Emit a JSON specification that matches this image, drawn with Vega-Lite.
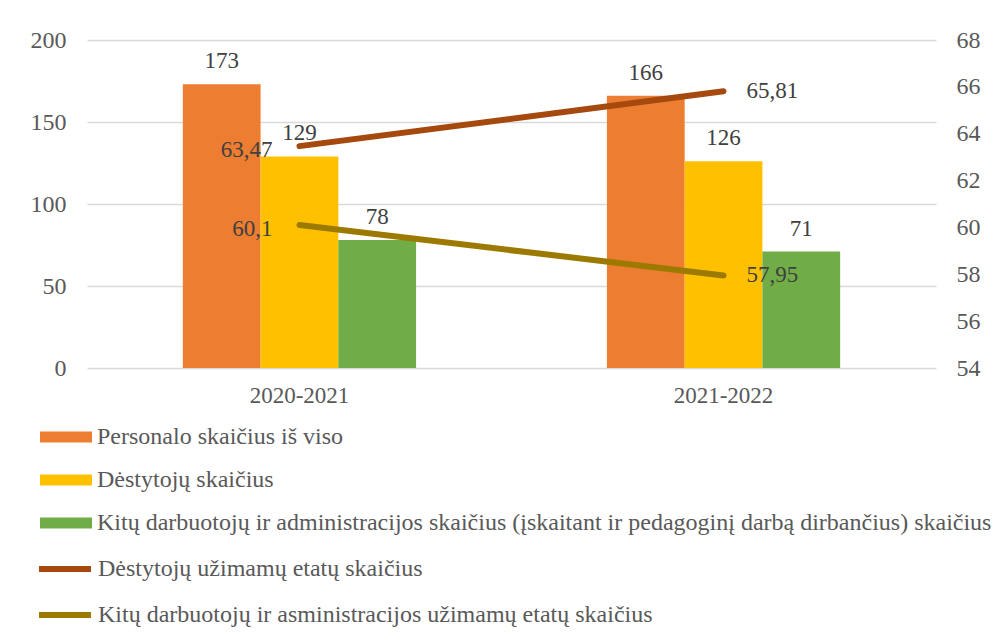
{
  "$schema": "https://vega.github.io/schema/vega-lite/v6.json",
  "autosize": "none",
  "width": 849,
  "height": 328,
  "padding": {"left": 87, "top": 40, "right": 58, "bottom": 273},
  "background": "white",
  "config": {
    "locale": {"number": {"decimal": ",", "thousands": " ", "grouping": [3], "currency": ["", " €"]}},
    "view": {"stroke": null},
    "font": "Times New Roman, Liberation Serif, serif",
    "legend": {"padding": 0}
  },
  "data": {
    "values": [
      {"year": "2020-2021", "series": "Personalo skaičius iš viso", "kind": "bar", "value": 173},
      {"year": "2020-2021", "series": "Dėstytojų skaičius", "kind": "bar", "value": 129},
      {"year": "2020-2021", "series": "Kitų darbuotojų ir administracijos skaičius (įskaitant ir pedagoginį darbą dirbančius) skaičius", "kind": "bar", "value": 78},
      {"year": "2021-2022", "series": "Personalo skaičius iš viso", "kind": "bar", "value": 166},
      {"year": "2021-2022", "series": "Dėstytojų skaičius", "kind": "bar", "value": 126},
      {"year": "2021-2022", "series": "Kitų darbuotojų ir administracijos skaičius (įskaitant ir pedagoginį darbą dirbančius) skaičius", "kind": "bar", "value": 71},
      {"year": "2020-2021", "series": "Dėstytojų užimamų etatų skaičius", "kind": "line", "value": 63.47},
      {"year": "2021-2022", "series": "Dėstytojų užimamų etatų skaičius", "kind": "line", "value": 65.81},
      {"year": "2020-2021", "series": "Kitų darbuotojų ir asministracijos užimamų etatų skaičius", "kind": "line", "value": 60.1},
      {"year": "2021-2022", "series": "Kitų darbuotojų ir asministracijos užimamų etatų skaičius", "kind": "line", "value": 57.95}
    ]
  },
  "encoding": {
    "x": {
      "field": "year", "type": "nominal", "title": null,
      "scale": {"paddingInner": 0.45, "paddingOuter": 0.226},
      "axis": {"labelAngle": 0, "domain": false, "ticks": false, "labelPadding": 16, "labelFontSize": 23, "labelColor": "#595959", "labelFont": "Times New Roman, Liberation Serif, serif"}
    }
  },
  "layer": [
    {
      "transform": [{"filter": "datum.kind == 'bar'"}],
      "encoding": {
        "y": {
          "field": "value", "type": "quantitative", "title": null,
          "scale": {"domain": [0, 200], "nice": false},
          "axis": {"orient": "left", "values": [0, 50, 100, 150, 200], "grid": true, "gridColor": "#D9D9D9", "gridWidth": 1.3, "domain": false, "ticks": false, "labelPadding": 21, "labelFontSize": 24, "labelColor": "#595959", "labelFont": "Times New Roman, Liberation Serif, serif"}
        },
        "xOffset": {
          "field": "series", "type": "nominal",
          "scale": {"paddingInner": 0, "paddingOuter": 0, "domain": ["Personalo skaičius iš viso", "Dėstytojų skaičius", "Kitų darbuotojų ir administracijos skaičius (įskaitant ir pedagoginį darbą dirbančius) skaičius"]}
        }
      },
      "layer": [
        {
          "mark": {"type": "bar"},
          "encoding": {
            "fill": {
              "field": "series", "type": "nominal",
              "scale": {
                "domain": ["Personalo skaičius iš viso", "Dėstytojų skaičius", "Kitų darbuotojų ir administracijos skaičius (įskaitant ir pedagoginį darbą dirbančius) skaičius"],
                "range": ["#ED7D31", "#FFC000", "#70AD47"]
              },
              "legend": {
                "title": null, "orient": "none", "legendX": -47, "legendY": 371, "direction": "vertical",
                "symbolType": "M-1,-0.21H1V0.21H-1Z", "symbolSize": 2704, "symbolStrokeWidth": 0,
                "labelFont": "Times New Roman, Liberation Serif, serif", "labelFontSize": 24, "labelColor": "#595959", "labelOffset": 5,
                "rowPadding": 5, "labelLimit": 1000
              }
            }
          }
        },
        {
          "mark": {"type": "text", "baseline": "alphabetic", "dy": -16, "fontSize": 23, "color": "#404040", "font": "Times New Roman, Liberation Serif, serif"},
          "encoding": {"text": {"field": "value", "type": "quantitative"}}
        }
      ]
    },
    {
      "transform": [{"filter": "datum.kind == 'line'"}],
      "encoding": {
        "y": {
          "field": "value", "type": "quantitative", "title": null,
          "scale": {"domain": [54, 68], "nice": false, "zero": false},
          "axis": {"orient": "right", "values": [54, 56, 58, 60, 62, 64, 66, 68], "grid": false, "domain": false, "ticks": false, "labelPadding": 20, "labelFontSize": 24, "labelColor": "#595959", "labelFont": "Times New Roman, Liberation Serif, serif"}
        }
      },
      "layer": [
        {
          "mark": {"type": "line", "strokeWidth": 6, "strokeCap": "round"},
          "encoding": {
            "stroke": {
              "field": "series", "type": "nominal",
              "scale": {
                "domain": ["Dėstytojų užimamų etatų skaičius", "Kitų darbuotojų ir asministracijos užimamų etatų skaičius"],
                "range": ["#A5490E", "#9C7A00"]
              },
              "legend": {
                "title": null, "orient": "none", "legendX": -51, "legendY": 500, "direction": "vertical",
                "symbolType": "stroke", "symbolSize": 2700, "symbolStrokeWidth": 6,
                "labelFont": "Times New Roman, Liberation Serif, serif", "labelFontSize": 24, "labelColor": "#595959", "labelOffset": 4,
                "rowPadding": 5, "labelLimit": 1000
              }
            }
          }
        },
        {
          "transform": [{"filter": "datum.year == '2020-2021'"}],
          "mark": {"type": "text", "align": "right", "baseline": "middle", "dx": -27, "dy": 4, "fontSize": 23, "color": "#404040", "font": "Times New Roman, Liberation Serif, serif"},
          "encoding": {"text": {"field": "value", "type": "quantitative", "format": "~g"}}
        },
        {
          "transform": [{"filter": "datum.year == '2021-2022'"}],
          "mark": {"type": "text", "align": "left", "baseline": "middle", "dx": 23, "fontSize": 23, "color": "#404040", "font": "Times New Roman, Liberation Serif, serif"},
          "encoding": {"text": {"field": "value", "type": "quantitative", "format": "~g"}}
        }
      ],
      "resolve": {"scale": {"stroke": "independent"}}
    }
  ],
  "resolve": {"scale": {"y": "independent"}}
}
